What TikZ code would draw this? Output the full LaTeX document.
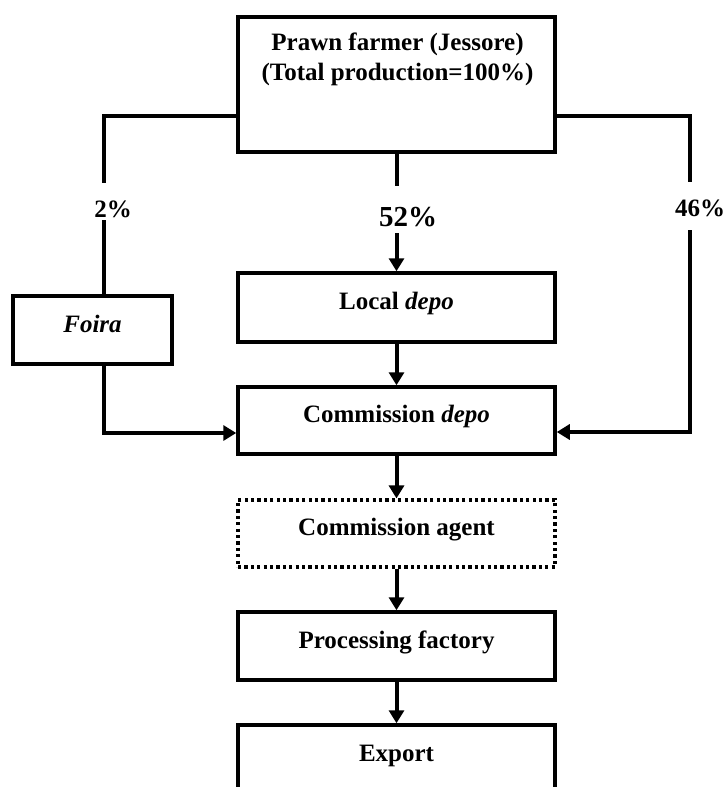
\documentclass[tikz,border=0pt]{standalone}
\usepackage{fontspec}
\setmainfont{Liberation Serif}
\usetikzlibrary{arrows.meta}
\tikzset{
  box/.style={draw, rectangle, line width=3.5pt, minimum width=317pt, inner sep=0pt,
    font=\fontsize{25}{30}\selectfont\bfseries, text height=17pt, text depth=13pt},
  dotbox/.style={box, line width=3.2pt, dash pattern=on 3.2pt off 3.2pt},
  conn/.style={line width=4pt},
  arr/.style={conn, -{Triangle[length=13pt,width=15pt]}},
  pct/.style={font=\fontsize{25}{28}\selectfont\bfseries, inner sep=0pt},
  bigpct/.style={font=\fontsize{29}{32}\selectfont\bfseries, inner sep=0pt},
  title/.style={font=\fontsize{25}{30}\selectfont\bfseries, align=center, inner sep=0pt}
}
\begin{document}
\begin{tikzpicture}[x=1pt,y=-1pt]
\useasboundingbox (0,0) rectangle (727,787);
% nodes
\node[box, minimum height=135pt] (farmer) at (396.5,84.5) {};
\node[title, anchor=north] (farmertext) at (397.5,33) {Prawn farmer (Jessore)\\(Total production=100\%)};
\node[box, minimum width=159pt, minimum height=68pt] (foira) at (92.5,330) {\itshape Foira};
\node[box, minimum height=69pt] (local) at (396.5,307.5) {Local \textit{depo}};
\node[box, minimum height=67pt] (commission) at (396.5,420.5) {Commission \textit{depo}};
\node[dotbox, minimum height=67pt] (agent) at (396.5,533.5) {Commission agent};
\node[box, minimum height=68pt] (factory) at (396.5,646) {Processing factory};
\begin{scope}
  \clip (0,0) rectangle (727,787);
  \node[box, minimum height=68pt] (export) at (396.5,759) {Export};
\end{scope}
% labels
\node[pct] (p2) at (113,209) {2\%};
\node[bigpct] (p52) at (408,217) {52\%};
\node[pct] (p46) at (700,208) {46\%};
% helper coordinates
\coordinate (hy) at (0,116);
\coordinate (l1) at (103.5,183);
\coordinate (l2) at (103.5,220);
\coordinate (c1) at (396.5,186);
\coordinate (c2) at (396.5,233);
\coordinate (r1) at (690,182);
\coordinate (r2) at (690,230);
\coordinate (ly) at (0,433);
\coordinate (ry) at (0,432);
% left branch
\draw[conn] (farmer.west |- hy) -| (l1);
\draw[conn] (l2) -- (l2 |- foira.north);
\draw[arr] (foira.south -| l2) |- (commission.west |- ly);
% centre branch
\draw[conn] (farmer.south) -- (c1);
\draw[arr] (c2) -- (local.north);
% right branch
\draw[conn] (farmer.east |- hy) -| (r1);
\draw[arr] (r2) |- (commission.east |- ry);
% main chain
\draw[arr] (local.south) -- (commission.north);
\draw[arr] (commission.south) -- (agent.north);
\draw[arr] (agent.south) -- (factory.north);
\draw[arr] (factory.south) -- (export.north);
\end{tikzpicture}
\end{document}
